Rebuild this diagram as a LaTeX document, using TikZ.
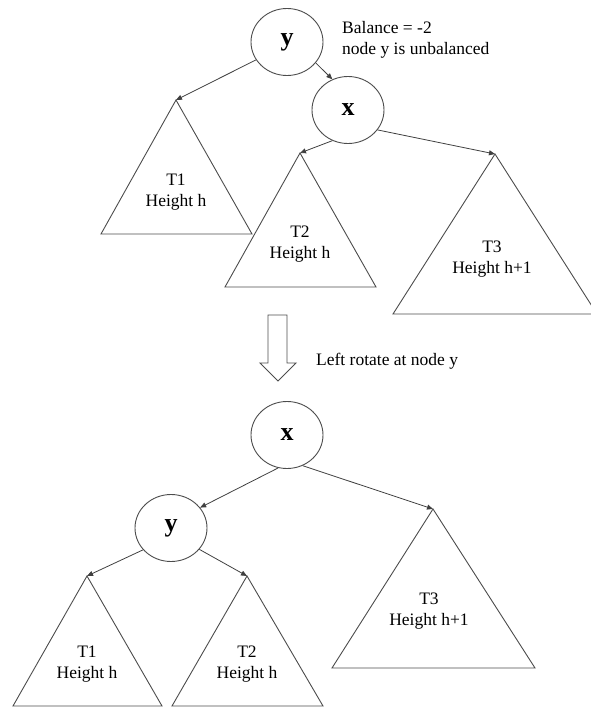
\documentclass[tikz,border=0pt]{standalone}
\usepackage{fontspec}
\setmainfont{Liberation Serif}
\usetikzlibrary{arrows.meta,shapes.geometric}

\tikzset{
  keynode/.style={draw=black!70, line width=0.9pt, ellipse, minimum width=72pt, minimum height=67pt, inner sep=0pt, font=\fontsize{26}{28}\selectfont\bfseries},
  edge/.style={draw=black!75, line width=0.8pt, -{Triangle[length=6pt,width=5pt]}},
  subtree/.style={draw=black!70, line width=0.9pt, line join=miter},
  treelabel/.style={align=center, inner sep=0pt, font=\fontsize{17.5}{21}\selectfont}
}

\begin{document}
\begin{tikzpicture}[x=1pt,y=-1pt]
  \useasboundingbox (0,0) rectangle (590,707);

  % Before rotation
  \node[keynode] (ytop) at (287,42) {y};
  \node[keynode] (xtop) at (348,110) {x};
  \node[treelabel, align=left, anchor=north west] (balance) at (342,21) {Balance = -2\\node y is unbalanced};

  \coordinate (t1top) at (176,100);
  \coordinate (t2top) at (300,153);
  \coordinate (t3top) at (495,154);
  \draw[subtree] (t1top) -- (101,234) -- (252,234) -- cycle;
  \draw[subtree] (t2top) -- (225,287) -- (376,287) -- cycle;
  \draw[subtree] (t3top) -- (393,314) -- (597,314) -- cycle;
  \node[treelabel] (t1toplabel) at (176,192) {T1\\Height h};
  \node[treelabel] (t2toplabel) at (300,244) {T2\\Height h};
  \node[treelabel] (t3toplabel) at (492,259) {T3\\Height h+1};

  \draw[edge] (ytop.210) -- (t1top);
  \draw[edge] (ytop.-36) -- (xtop.117);
  \draw[edge] (xtop.-117) -- (t2top);
  \draw[edge] (xtop.-34) -- (t3top);

  % Rotation arrow
  \draw[black!70, line width=0.9pt] (268,315) -- (287,315) -- (287,363) -- (296,363)
    -- (278,381) -- (260,363) -- (268,363) -- cycle;
  \node[treelabel, anchor=base west] (rotate) at (316,365) {Left rotate at node y};

  % After rotation
  \node[keynode] (xbot) at (287,435) {x};
  \node[keynode] (ybot) at (171,528) {y};

  \coordinate (t1bot) at (87,576);
  \coordinate (t2bot) at (247,576);
  \coordinate (t3bot) at (433,509);
  \draw[subtree] (t1bot) -- (13,706) -- (162,706) -- cycle;
  \draw[subtree] (t2bot) -- (172,706) -- (323,706) -- cycle;
  \draw[subtree] (t3bot) -- (332,668) -- (535,668) -- cycle;
  \node[treelabel] (t1botlabel) at (87,664) {T1\\Height h};
  \node[treelabel] (t2botlabel) at (247,664) {T2\\Height h};
  \node[treelabel] (t3botlabel) at (429,611) {T3\\Height h+1};

  \draw[edge] (xbot.255) -- (ybot.35);
  \draw[edge] (xbot.-63) -- (t3bot);
  \draw[edge] (ybot.218) -- (t1bot);
  \draw[edge] (ybot.-37) -- (t2bot);

\end{tikzpicture}
\end{document}
